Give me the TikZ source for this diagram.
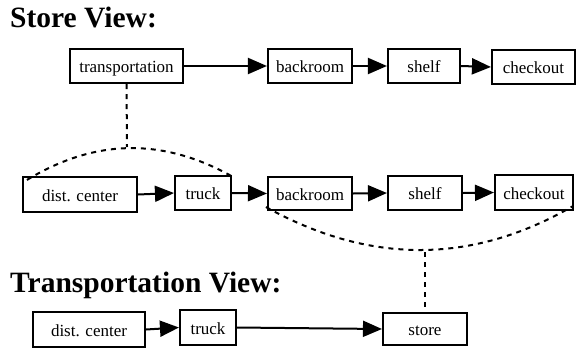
\documentclass[tikz,border=0pt]{standalone}
\usepackage{fontspec}
\setmainfont{Liberation Serif}
\newfontfamily\labelfont{Liberation Serif}
\usetikzlibrary{arrows.meta}
\tikzset{
  box/.style={draw, line width=2.1pt, inner sep=0pt, text height=17pt, text depth=4pt,
              font=\labelfont\fontsize{17}{20}\selectfont},
  flow/.style={line width=2pt, -{Triangle[length=19pt,width=16pt]}},
  link/.style={line width=2pt, dash pattern=on 5pt off 5pt},
  heading/.style={anchor=base west, inner sep=0pt, font=\labelfont\fontsize{29.5}{34}\selectfont\bfseries},
}
\begin{document}
\begin{tikzpicture}[x=1pt,y=-1pt]
\useasboundingbox (0,0) rectangle (577,348);

% store view
\node[heading] (hstore) at (10,27) {Store View:};
\node[box, minimum width=113pt, minimum height=34pt] (tr)  at (126.5,66) {transportation};
\node[box, minimum width=84pt,  minimum height=34pt] (br1) at (310,66)   {backroom};
\node[box, minimum width=72pt,  minimum height=34pt] (sh1) at (424,66)   {shelf};
\node[box, minimum width=83pt,  minimum height=34pt] (co1) at (533.5,67) {checkout};
\draw[flow] (tr.east)  -- (br1.west);
\draw[flow] (br1.east) -- (sh1.west);
\draw[flow] (sh1.east) -- (co1.west);

% expanded chain
\node[box, minimum width=114pt, minimum height=35pt] (dc2) at (80,194.5)  {dist. center};
\node[box, minimum width=56pt,  minimum height=34pt] (tk2) at (203,193)   {truck};
\node[box, minimum width=84pt,  minimum height=33pt] (br2) at (310,193.5) {backroom};
\node[box, minimum width=74pt,  minimum height=34pt] (sh2) at (425,193)   {shelf};
\node[box, minimum width=78pt,  minimum height=35pt] (co2) at (534,192.5) {checkout};
\draw[flow] (dc2.east) -- (tk2.west);
\draw[flow] (tk2.east) -- (br2.west);
\draw[flow] (br2.east) -- (sh2.west);
\draw[flow] (sh2.east) -- (co2.west);

% transportation view
\node[heading] (htrans) at (10,292) {Transportation View:};
\node[box, minimum width=112pt, minimum height=35pt] (dc3) at (89,329.5)  {dist. center};
\node[box, minimum width=56pt,  minimum height=35pt] (tk3) at (208,327.5) {truck};
\node[box, minimum width=84pt,  minimum height=32pt] (st3) at (425,329)   {store};
\draw[flow] (dc3.east) -- (tk3.west);
\draw[flow] (tk3.east) -- (st3.west);

% dashed expansion links
\coordinate (up)   at (127,147);
\coordinate (down) at (425,252);
\draw[link] (tr.south) -- (up);
\draw[link] ([shift={(5pt,-4pt)}]dc2.north west) .. controls (96,138) and (164,138) .. ([shift={(1pt,-2pt)}]tk2.north east);
\draw[link] ([shift={(-1pt,4pt)}]br2.south west) .. controls (369,264) and (471,265) .. ([shift={(-1pt,5pt)}]co2.south east);
\draw[link] (down) -- (st3.north);
\end{tikzpicture}
\end{document}
